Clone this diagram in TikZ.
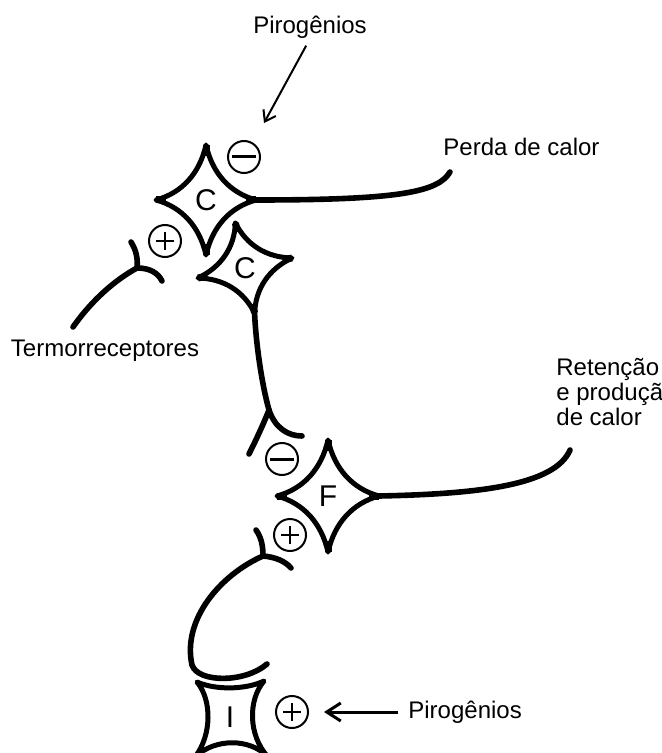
\documentclass[tikz,border=0pt]{standalone}
\usepackage{fontspec}
\setmainfont{Liberation Sans}
\usetikzlibrary{arrows.meta}
% four-cusped cell: name, centre, half width, half height, rotation, letter
\newcommand{\neuron}[6]{%
  \begin{scope}[shift={#2}, rotate=#5]
    \draw[cellline] (0,-#4) .. controls (0.13*#3,-0.48*#4) and (0.48*#3,-0.13*#4) .. (#3,0)
      .. controls (0.48*#3,0.13*#4) and (0.13*#3,0.48*#4) .. (0,#4)
      .. controls (-0.13*#3,0.48*#4) and (-0.48*#3,0.13*#4) .. (-#3,0)
      .. controls (-0.48*#3,-0.13*#4) and (-0.13*#3,-0.48*#4) .. cycle;
    \draw[cusp] (0,-#4) -- (0,-0.8*#4);
    \draw[cusp] (0,#4) -- (0,0.8*#4);
    \draw[cusp] (-#3,0) -- (-0.8*#3,0);
    \draw[cusp] (#3,0) -- (0.8*#3,0);
    \coordinate (#1-n) at (0,-#4);
    \coordinate (#1-s) at (0,#4);
    \coordinate (#1-w) at (-#3,0);
    \coordinate (#1-e) at (#3,0);
    \node[soma] (#1) at (0,0) {#6};
  \end{scope}}

\begin{document}
\begin{tikzpicture}[x=0.5pt,y=-0.5pt]
\tikzstyle{cellline} = [line width=2.5pt, line join=round]
\tikzstyle{cusp} = [line width=3.5pt]
\tikzstyle{soma} = [font=\fontsize{15}{15}\selectfont, inner sep=0pt]
\tikzstyle{axon} = [line width=2.8pt, line cap=round]
\tikzstyle{sign} = [circle, draw, line width=1pt, minimum size=16pt, inner sep=0pt]
\tikzstyle{plus} = [sign, path picture={\draw[line width=1.2pt]
    ([xshift=-4.5pt]path picture bounding box.center) -- ([xshift=4.5pt]path picture bounding box.center)
    ([yshift=-4.5pt]path picture bounding box.center) -- ([yshift=4.5pt]path picture bounding box.center);}]
\tikzstyle{minus} = [sign, path picture={\draw[line width=1.5pt]
    ([xshift=-6pt]path picture bounding box.center) -- ([xshift=6pt]path picture bounding box.center);}]
\tikzstyle{txt} = [font=\fontsize{12}{12.5}\selectfont, inner sep=0pt]
\tikzstyle{arrow} = [line width=1pt, -{Straight Barb[length=5pt, width=7pt]}]
\tikzstyle{bigarrow} = [line width=1.5pt, -{Straight Barb[length=7pt, width=9pt]}]
\useasboundingbox (0,0) rectangle (662,753);

% cells
\neuron{c1}{(206,200)}{50}{55}{0}{C}
\neuron{c2}{(245,268)}{48}{46}{12}{C}
\neuron{f}{(328,496)}{51}{56}{0}{F}
\draw[cellline] (197,682) .. controls (215,690) and (245,690) .. (264,681)
  .. controls (248,700) and (248,735) .. (268,757)
  .. controls (250,738) and (215,738) .. (195,757)
  .. controls (212,735) and (212,700) .. cycle;
\node[soma] (i) at (230,717) {I};

% signs
\node[minus] (m1) at (244,157) {};
\node[plus] (p1) at (165,241) {};
\node[minus] (m2) at (282,459) {};
\node[plus] (p2) at (290,535) {};
\node[plus] (p3) at (292,712) {};

% labels
\node[txt] (pyro1) at (310,27) {Pirogênios};
\node[txt, anchor=west] (loss) at (443,147) {Perda de calor};
\node[txt] (thermo) at (105,351) {Termorreceptores};
\node[txt, anchor=north west, align=left] (gain) at (556,358) {Retenção\\e produção\\de calor};
\node[txt, anchor=west] (pyro2) at (408,712) {Pirogênios};

% free ends and junctions
\coordinate (lossend) at (450,172);
\coordinate (gainend) at (570,450);
\coordinate (tr) at (73,327);
\coordinate (jt) at (137,268);
\coordinate (jf) at (269,410);
\coordinate (jp) at (263,556);
\coordinate (iend) at (267,664);
\coordinate (pyro1tip) at (264,123);

% axons and dendrites
\draw[axon] (c1-e) .. controls (400,200) and (438,192) .. (lossend);
\draw[axon] (f-e) .. controls (480,494) and (555,485) .. (gainend);
\draw[axon] (tr) .. controls (92,300) and (115,280) .. (jt);
\draw[axon] (jt) .. controls (138,258) and (136,250) .. (131,242);
\draw[axon] (jt) .. controls (150,268) and (158,273) .. (162,281);
\draw[axon] (c2-s) .. controls (256,345) and (262,385) .. (jf);
\draw[axon] (jf) .. controls (263,425) and (256,440) .. (249,454);
\draw[axon] (jf) .. controls (275,428) and (288,436) .. (302,436);
\draw[axon] (jp) .. controls (263,545) and (261,537) .. (256,530);
\draw[axon] (jp) .. controls (275,557) and (285,561) .. (291,568);
\draw[axon] (jp) .. controls (220,575) and (182,620) .. (192,665)
  .. controls (198,683) and (245,683) .. (iend);

% pyrogens
\draw[arrow, shorten <=4pt] (pyro1.south) -- (pyro1tip);
\draw[bigarrow, shorten <=5pt, shorten >=7.5pt] (pyro2.west) -- (p3.east);
\end{tikzpicture}
\end{document}
